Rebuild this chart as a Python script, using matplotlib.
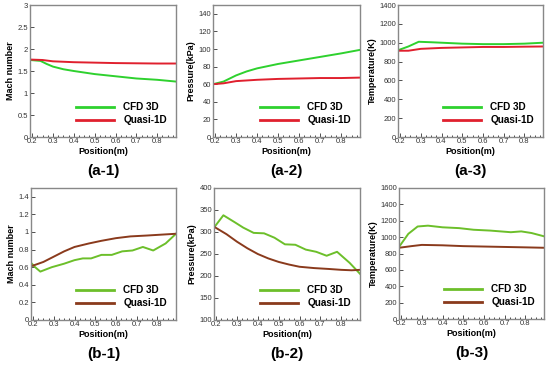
import matplotlib.pyplot as plt
from matplotlib.ticker import MultipleLocator, AutoMinorLocator, FormatStrFormatter

# ---- data ----
# (a-1) Mach number
a1_cfd_x = [0.19, 0.24, 0.27, 0.30, 0.35, 0.40, 0.50, 0.60, 0.70, 0.80, 0.89]
a1_cfd_y = [1.75, 1.73, 1.66, 1.60, 1.54, 1.50, 1.43, 1.38, 1.33, 1.30, 1.26]
a1_q1d_x = [0.19, 0.25, 0.30, 0.40, 0.50, 0.60, 0.70, 0.80, 0.89]
a1_q1d_y = [1.76, 1.75, 1.72, 1.70, 1.69, 1.68, 1.675, 1.67, 1.67]

# (a-2) Pressure
a2_cfd_x = [0.19, 0.24, 0.30, 0.35, 0.40, 0.50, 0.60, 0.70, 0.80, 0.89]
a2_cfd_y = [60, 63, 70, 74.5, 78, 83, 87, 91, 95, 99]
a2_q1d_x = [0.19, 0.24, 0.30, 0.40, 0.50, 0.60, 0.70, 0.80, 0.89]
a2_q1d_y = [60, 61, 63.5, 65, 66, 66.5, 67, 67, 67.5]

# (a-3) Temperature
a3_cfd_x = [0.19, 0.24, 0.29, 0.35, 0.50, 0.60, 0.70, 0.80, 0.89]
a3_cfd_y = [920, 960, 1010, 1005, 990, 985, 985, 990, 1000]
a3_q1d_x = [0.19, 0.24, 0.30, 0.40, 0.50, 0.60, 0.70, 0.80, 0.89]
a3_q1d_y = [915, 915, 935, 945, 950, 955, 955, 958, 960]

# (b-1) Mach number
b1_cfd_x = [0.19, 0.21, 0.235, 0.29, 0.35, 0.40, 0.44, 0.48, 0.53, 0.58, 0.63, 0.68, 0.73, 0.78, 0.84, 0.89]
b1_cfd_y = [0.65, 0.60, 0.55, 0.60, 0.64, 0.68, 0.70, 0.70, 0.74, 0.74, 0.78, 0.79, 0.83, 0.79, 0.87, 0.98]
b1_q1d_x = [0.19, 0.25, 0.30, 0.35, 0.40, 0.47, 0.53, 0.60, 0.67, 0.75, 0.82, 0.89]
b1_q1d_y = [0.61, 0.66, 0.72, 0.78, 0.83, 0.87, 0.90, 0.93, 0.95, 0.96, 0.97, 0.98]

# (b-2) Pressure
b2_cfd_x = [0.19, 0.235, 0.29, 0.33, 0.38, 0.43, 0.48, 0.53, 0.58, 0.63, 0.68, 0.73, 0.78, 0.84, 0.89]
b2_cfd_y = [310, 338, 322, 310, 298, 297, 287, 272, 271, 260, 255, 246, 255, 230, 205]
b2_q1d_x = [0.19, 0.25, 0.30, 0.35, 0.40, 0.45, 0.50, 0.55, 0.60, 0.67, 0.74, 0.80, 0.85, 0.89]
b2_q1d_y = [312, 295, 278, 263, 250, 240, 232, 226, 221, 218, 216, 214, 213, 214]

# (b-3) Temperature
b3_cfd_x = [0.19, 0.235, 0.28, 0.33, 0.40, 0.48, 0.55, 0.63, 0.73, 0.78, 0.83, 0.89]
b3_cfd_y = [880, 1040, 1130, 1140, 1120, 1110, 1090, 1080, 1060, 1070, 1050, 1010]
b3_q1d_x = [0.19, 0.25, 0.30, 0.40, 0.50, 0.60, 0.70, 0.80, 0.89]
b3_q1d_y = [870, 890, 905, 900, 890, 885, 880, 875, 870]

W, H = 550, 365
fig = plt.figure(figsize=(W / 100, H / 100), dpi=100)
plt.rcParams['font.family'] = ['Liberation Sans', 'DejaVu Sans']

green_a, red_a = '#2ed12e', '#e0202e'
green_b, brown_b = '#6cbf2a', '#8a3a1c'

panels = [
    # left, right, top, bottom (px), data, ylim, ystep, ylabel, tag, colors
    (30, 176, 5, 137, a1_cfd_x, a1_cfd_y, a1_q1d_x, a1_q1d_y, (0, 3), 0.5, 'Mach number', '(a-1)', green_a, red_a),
    (213, 360, 5, 137, a2_cfd_x, a2_cfd_y, a2_q1d_x, a2_q1d_y, (0, 150), 20, 'Pressure(kPa)', '(a-2)', green_a, red_a),
    (398, 543, 5, 137, a3_cfd_x, a3_cfd_y, a3_q1d_x, a3_q1d_y, (0, 1400), 200, 'Temperature(K)', '(a-3)', green_a, red_a),
    (31, 176, 188, 320, b1_cfd_x, b1_cfd_y, b1_q1d_x, b1_q1d_y, (0, 1.5), 0.2, 'Mach number', '(b-1)', green_b, brown_b),
    (214, 360, 188, 320, b2_cfd_x, b2_cfd_y, b2_q1d_x, b2_q1d_y, (100, 400), 50, 'Pressure(kPa)', '(b-2)', green_b, brown_b),
    (399, 544, 188, 319, b3_cfd_x, b3_cfd_y, b3_q1d_x, b3_q1d_y, (0, 1600), 200, 'Temperature(K)', '(b-3)', green_b, brown_b),
]

for (l, r, t, b, cx, cy, qx, qy, ylim, ystep, ylabel, tag, c1, c2) in panels:
    ax = fig.add_axes([l / W, 1 - b / H, (r - l) / W, (b - t) / H])
    ax.plot(cx, cy, color=c1, lw=1.4, label='CFD 3D')
    ax.plot(qx, qy, color=c2, lw=1.4, label='Quasi-1D')
    ax.set_xlim(0.19, 0.89)
    ax.set_ylim(*ylim)
    ax.xaxis.set_major_locator(MultipleLocator(0.1))
    ax.xaxis.set_minor_locator(AutoMinorLocator(4))
    ax.yaxis.set_major_locator(MultipleLocator(ystep))
    ax.yaxis.set_major_formatter(FormatStrFormatter('%g'))
    ax.tick_params(direction='in', labelsize=5.5, length=3, width=0.6, pad=1.5, colors='#333333')
    ax.tick_params(which='minor', direction='in', length=1.5, width=0.5)
    ax.tick_params(axis='x', pad=1)
    for s in ax.spines.values():
        s.set_color('#888888')
        s.set_linewidth(1.0)
    ax.set_xlabel('Position(m)', fontsize=6.5, fontweight='bold', labelpad=1)
    ax.set_ylabel(ylabel, fontsize=6.5, fontweight='bold', labelpad=2)
    leg = ax.legend(loc='lower right', bbox_to_anchor=(1.0, 0.02), frameon=False,
                    handlelength=3.8, labelspacing=0.3, handletextpad=0.9,
                    prop={'weight': 'bold', 'size': 7.2})
    for ln in leg.get_lines():
        ln.set_linewidth(2.0)
    fig.text((l + r) / 2 / W, 1 - (b + 34) / H, tag, ha='center', va='center',
             fontsize=11, fontweight='bold')

fig.savefig('out.png', dpi=100)
